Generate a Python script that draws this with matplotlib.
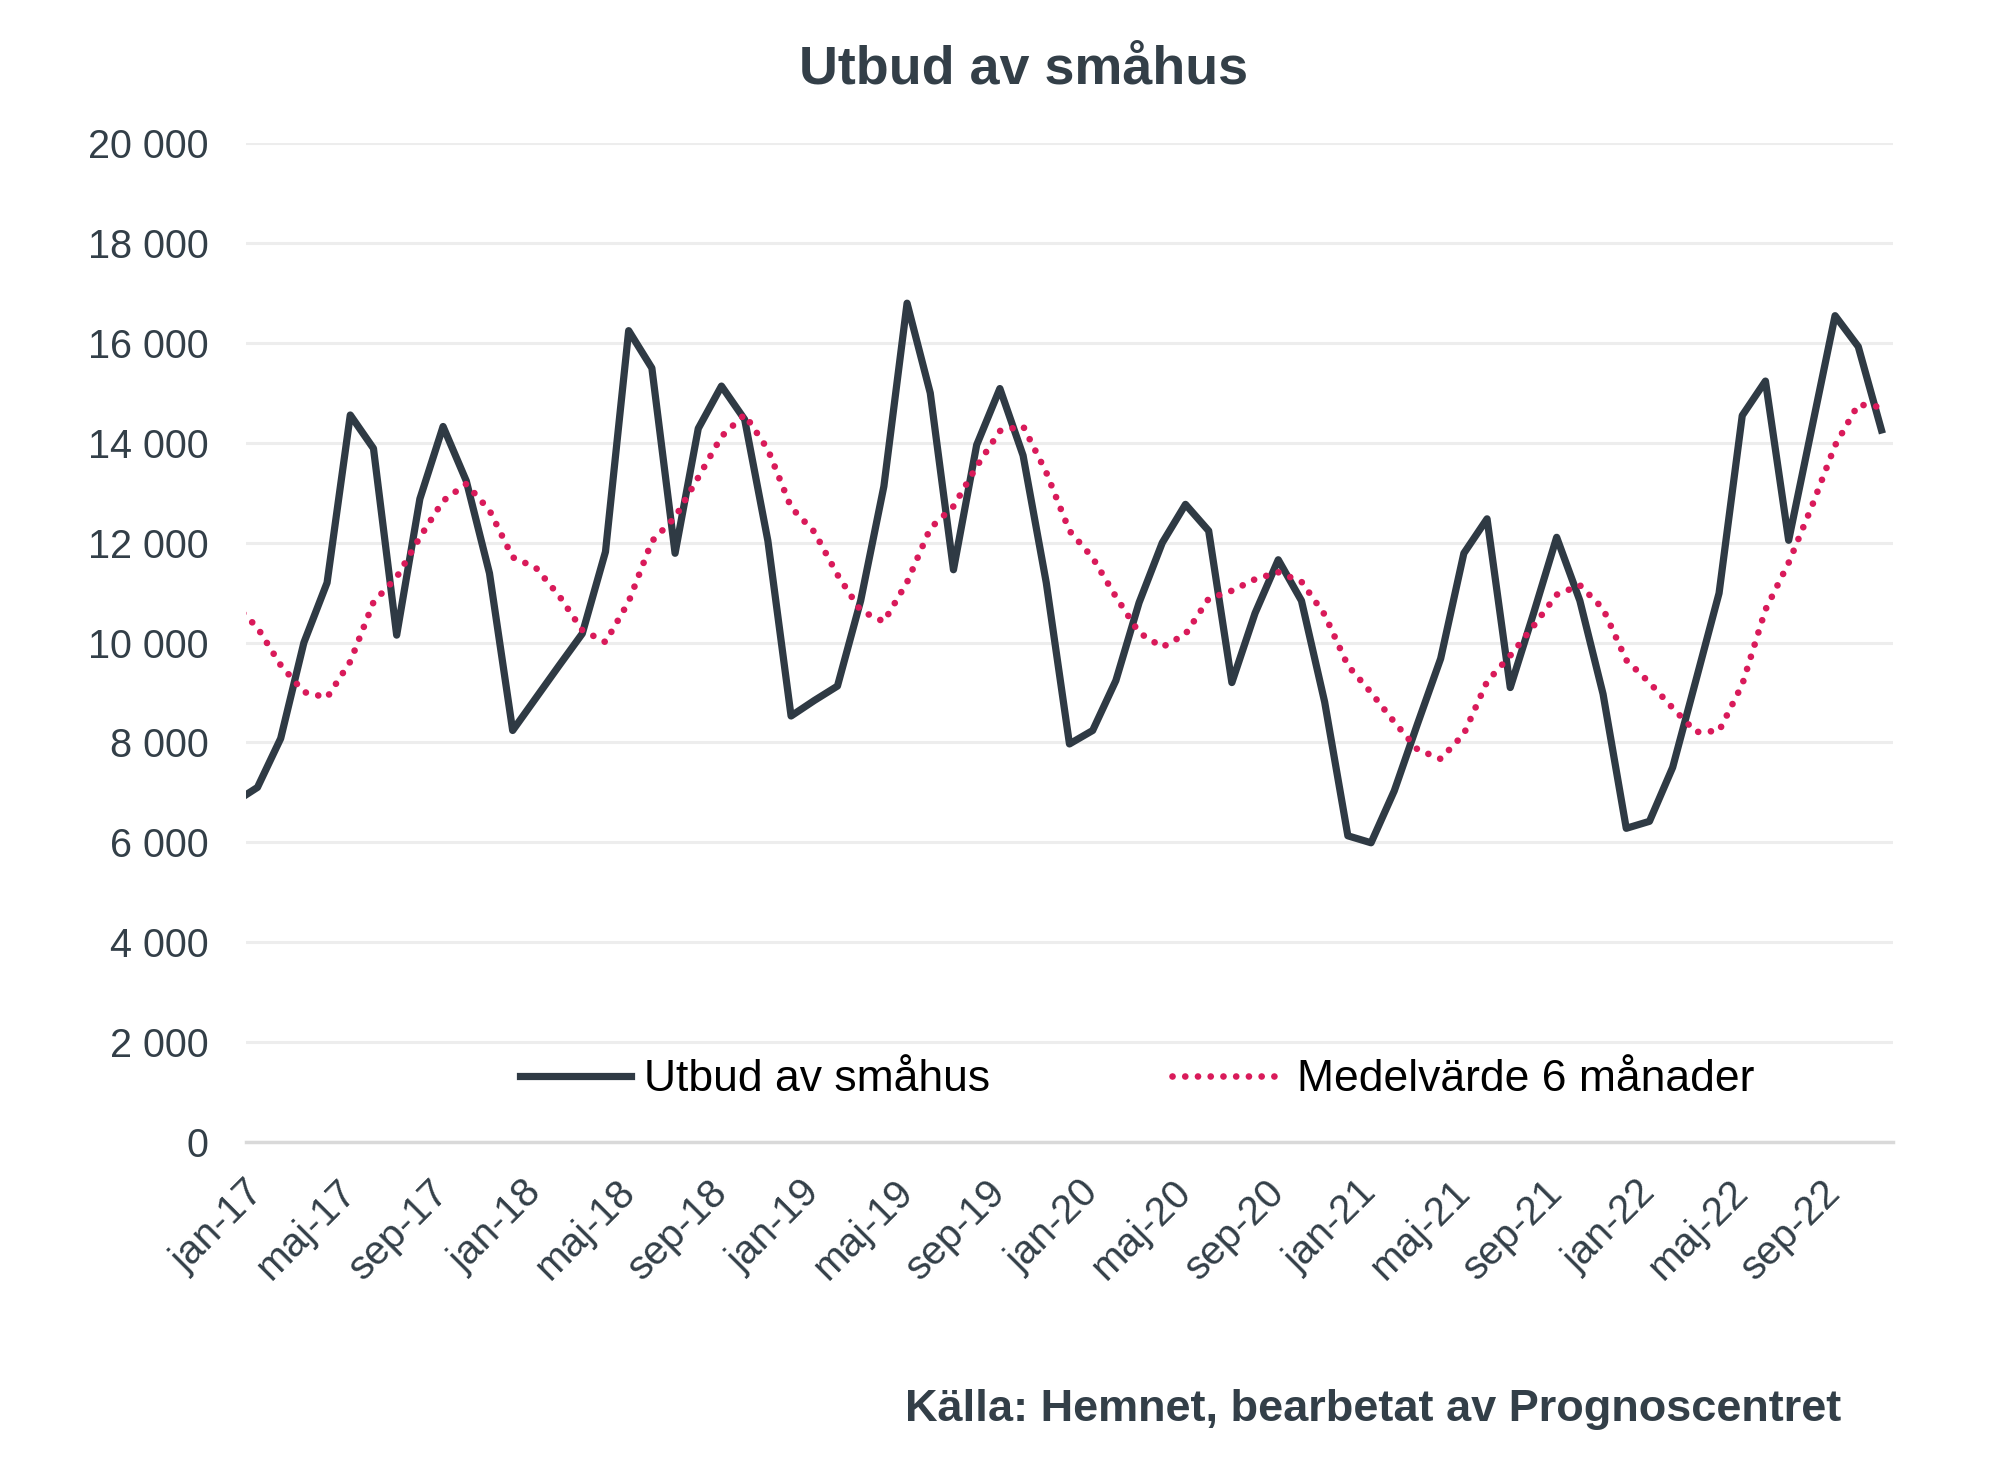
import matplotlib.pyplot as plt
import numpy as np

plt.rcParams['font.family'] = ['Liberation Sans', 'DejaVu Sans']

# månadsdata dec-16 .. nov-22 (dec-16 syns bara som en kapad bit i vänsterkanten)
utbud = [6800,
         7100, 8080, 10000, 11200, 14560, 13890, 10150, 12880, 14330, 13240, 11390, 8240,
         8890, 9540, 10180, 11820, 16250, 15500, 11790, 14290, 15140, 14470, 12040, 8530,
         8840, 9130, 10840, 13130, 16800, 15000, 11460, 13960, 15090, 13750, 11200, 7970,
         8240, 9240, 10800, 12000, 12770, 12240, 9200, 10590, 11660, 10840, 8810, 6130,
         5990, 7030, 8370, 9680, 11790, 12480, 9100, 10580, 12110, 10840, 8970, 6280,
         6420, 7500, 9240, 10990, 14550, 15240, 12050, 14300, 16550, 15930, 14260]

medel = [10770,
         10300, 9550, 9010, 8900, 9620, 10810, 11310, 12110, 12840, 13180, 12650, 11710,
         11500, 10940, 10250, 10010, 10820, 12030, 12510, 13310, 14130, 14570, 13870, 12710,
         12220, 11360, 10640, 10420, 11210, 12290, 12730, 13530, 14240, 14340, 13410, 12240,
         11700, 10920, 10200, 9910, 10170, 10880, 11040, 11270, 11410, 11220, 10560, 9540,
         9000, 8410, 7860, 7670, 8170, 9220, 9740, 10330, 10960, 11150, 10680, 9650,
         9200, 8690, 8210, 8230, 9160, 10660, 11600, 12730, 13950, 14770, 14720]

tick_labels = ['jan-17', 'maj-17', 'sep-17', 'jan-18', 'maj-18', 'sep-18',
               'jan-19', 'maj-19', 'sep-19', 'jan-20', 'maj-20', 'sep-20',
               'jan-21', 'maj-21', 'sep-21', 'jan-22', 'maj-22', 'sep-22']

txt = '#333F48'
line_col = '#2F3A44'
red = '#D91A5A'

x = np.arange(len(utbud)) - 1

fig = plt.figure(figsize=(19.99, 14.79), dpi=100)
ax = fig.add_axes([0.123, 0.228, 0.824, 0.675])

ax.plot(x, utbud, color=line_col, lw=5.2, label='Utbud av småhus')
ax.plot(x, medel, color=red, lw=4.8, linestyle=(0, (0.01, 1.9)),
        dash_capstyle='round', label='Medelvärde 6 månader')

ax.set_xlim(-0.5, 70.5)
ax.set_ylim(0, 20000)
yt = np.arange(0, 20001, 2000)
ax.set_yticks(yt)
ax.set_yticklabels([f'{v:,}'.replace(',', ' ') for v in yt])
ax.set_xticks(np.arange(0, 69, 4))
ax.set_xticklabels(tick_labels, rotation=45, ha='right', va='center',
                   rotation_mode='anchor')

ax.yaxis.grid(True, color='#EDEDED', lw=2.2)
ax.set_axisbelow(True)
for s in ['top', 'right', 'left']:
    ax.spines[s].set_visible(False)
ax.spines['bottom'].set_color('#D9D9D9')
ax.spines['bottom'].set_linewidth(2.5)

ax.tick_params(axis='y', length=0, pad=27, labelsize=28.5, colors=txt)
ax.tick_params(axis='x', length=0, pad=32, labelsize=29, colors=txt)

leg = ax.legend(loc='center', bbox_to_anchor=(0.541, 0.062), ncol=2, frameon=False,
                fontsize=32, handlelength=2.5, handletextpad=0.3, columnspacing=4.1)
for t in leg.get_texts():
    t.set_color('black')

fig.text(0.512, 0.953, 'Utbud av småhus', ha='center', va='center',
         fontsize=38.8, fontweight='bold', color=txt)
fig.text(0.921, 0.0473, 'Källa: Hemnet, bearbetat av Prognoscentret', ha='right',
         va='center', fontsize=32.5, fontweight='bold', color=txt)

fig.savefig('out.png', dpi=100)
